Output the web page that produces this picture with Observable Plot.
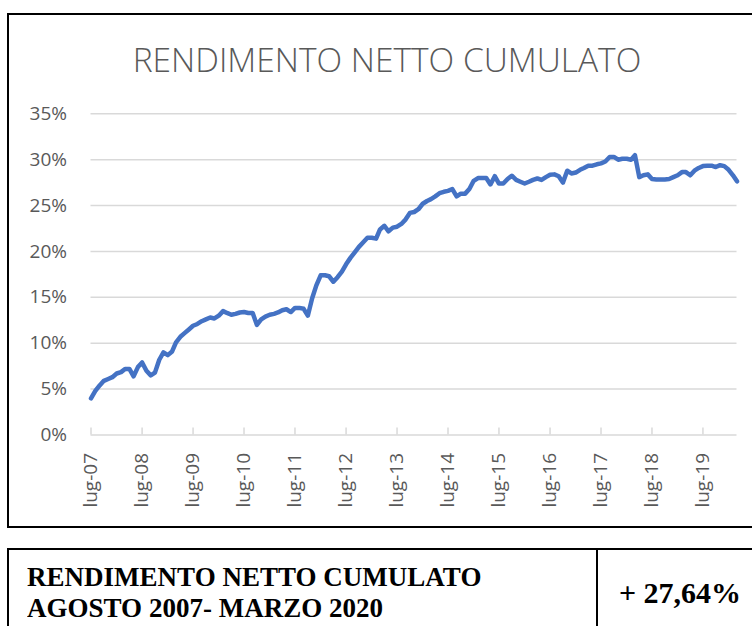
<!DOCTYPE html>
<html>
<head>
<meta charset="utf-8">
<script src="https://cdn.jsdelivr.net/npm/d3@7"></script>
<script src="https://cdn.jsdelivr.net/npm/@observablehq/plot@0.6"></script>
<style>
  html, body { margin: 0; padding: 0; background: #fff; }
  body { width: 752px; height: 626px; overflow: hidden; position: relative; }
  #box { position: absolute; left: 7px; top: 13px; width: 770px; height: 511px; border: 2px solid #000; box-sizing: content-box; }
  #title { position: absolute; left: 0; top: 43px; width: 774px; text-align: center; font-family: "Open Sans", sans-serif; font-weight: 300; font-size: 33.5px; line-height: 33px; color: #595959; white-space: nowrap; }
  #chart { position: absolute; left: 0; top: 0; }
  #table { position: absolute; left: 7px; top: 548px; width: 770px; height: 100px; border: 2px solid #000; }
  #divider { position: absolute; left: 596px; top: 548px; width: 2px; height: 80px; background: #000; }
  .cell { position: absolute; font-family: "Liberation Serif", "Times New Roman", serif; font-weight: bold; color: #000; white-space: nowrap; transform-origin: 0 50%; }
  #lbl { left: 27px; top: 561px; font-size: 28px; line-height: 31px; transform: scaleX(0.965); }
  #val { left: 599px; top: 578px; width: 162px; text-align: center; font-size: 30px; line-height: 29px; }
</style>
</head>
<body>
<div id="box"></div>
<div id="chart"></div>
<div id="title">RENDIMENTO NETTO CUMULATO</div>
<div id="table"></div>
<div id="divider"></div>
<div class="cell" id="lbl">RENDIMENTO NETTO CUMULATO<br>AGOSTO 2007- MARZO 2020</div>
<div class="cell" id="val">+ 27,64%</div>
<script>
// Monthly cumulative net return (%), lug-2007 .. mar-2020
const values = [
  4.0, 4.8, 5.4, 5.9, 6.1, 6.3, 6.7, 6.85, 7.2, 7.2, 6.4, 7.4,
  7.9, 7.0, 6.5, 6.8, 8.2, 9.0, 8.7, 9.1, 10.1, 10.7, 11.1, 11.5,
  11.9, 12.1, 12.4, 12.6, 12.8, 12.7, 13.0, 13.5, 13.3, 13.1, 13.2, 13.35,
  13.4, 13.3, 13.3, 12.0, 12.6, 12.9, 13.1, 13.2, 13.35, 13.6, 13.7, 13.4,
  13.85, 13.85, 13.75, 13.0, 14.9, 16.3, 17.4, 17.4, 17.3, 16.7, 17.2, 17.8,
  18.6, 19.3, 19.9, 20.5, 21.0, 21.5, 21.5, 21.4, 22.4, 22.8, 22.2, 22.6,
  22.7, 23.0, 23.5, 24.2, 24.3, 24.6, 25.2, 25.5, 25.7, 26.0, 26.35, 26.5,
  26.6, 26.8, 26.0, 26.3, 26.3, 26.8, 27.7, 28.0, 28.0, 28.0, 27.3, 28.2,
  27.4, 27.4, 27.9, 28.25, 27.8, 27.6, 27.4, 27.6, 27.8, 27.95, 27.8, 28.1,
  28.35, 28.4, 28.2, 27.5, 28.8, 28.5, 28.6, 28.9, 29.1, 29.35, 29.35, 29.5,
  29.6, 29.8, 30.3, 30.3, 30.0, 30.1, 30.1, 30.0, 30.5, 28.1, 28.3, 28.4,
  27.9, 27.85, 27.85, 27.85, 27.9, 28.1, 28.3, 28.65, 28.65, 28.3, 28.8, 29.1,
  29.3, 29.35, 29.35, 29.2, 29.4, 29.3, 28.9, 28.3, 27.64
];
const tickYears = [2007, 2008, 2009, 2010, 2011, 2012, 2013, 2014, 2015, 2016, 2017, 2018, 2019];
const tickLabels = ["lug-07", "lug-08", "lug-09", "lug-10", "lug-11", "lug-12", "lug-13", "lug-14", "lug-15", "lug-16", "lug-17", "lug-18", "lug-19"];
const yTicks = [0, 5, 10, 15, 20, 25, 30, 35];

const start = new Date(Date.UTC(2007, 6, 1));
const months = d3.utcMonth.range(start, d3.utcMonth.offset(start, values.length));
const data = values.map((v, i) => ({date: months[i], value: v}));
const tickDates = tickYears.map(y => new Date(Date.UTC(y, 6, 1)));
const labelOf = new Map(tickDates.map((d, i) => [+d, tickLabels[i]]));

const grid = "#d9d9d9";
const txt = "#595959";

const chart = Plot.plot({
  width: 752,
  height: 526,
  marginLeft: 90.5,
  marginRight: 15.5,
  marginTop: 113.3,
  marginBottom: 91.5,
  style: {fontFamily: "'Open Sans', sans-serif", fontSize: "19px", color: txt, background: "transparent"},
  x: {type: "utc", domain: [months[0], months[months.length - 1]], label: null},
  y: {domain: [0, 35], label: null},
  marks: [
    Plot.ruleY(yTicks.slice(1), {stroke: grid, strokeWidth: 1.5}),
    Plot.ruleY([0], {stroke: grid, strokeWidth: 1.5}),
    Plot.ruleX(tickDates, {x: d => d, y1: 0, y2: 0, insetTop: -7, stroke: grid, strokeWidth: 1.5}),
    Plot.axisY({ticks: yTicks, tickSize: 0, tickPadding: 24, tickFormat: d => d + "%", fill: txt, fontSize: 19, label: null}),
    Plot.axisX({ticks: tickDates, tickSize: 0, tickPadding: 18, tickRotate: -90, tickFormat: d => labelOf.get(+d), fill: txt, fontSize: 19, label: null}),
    Plot.line(data, {x: "date", y: "value", stroke: "#4472C4", strokeWidth: 4.5, strokeLinejoin: "round", strokeLinecap: "round"})
  ]
});
document.getElementById("chart").appendChild(chart);
</script>
</body>
</html>
